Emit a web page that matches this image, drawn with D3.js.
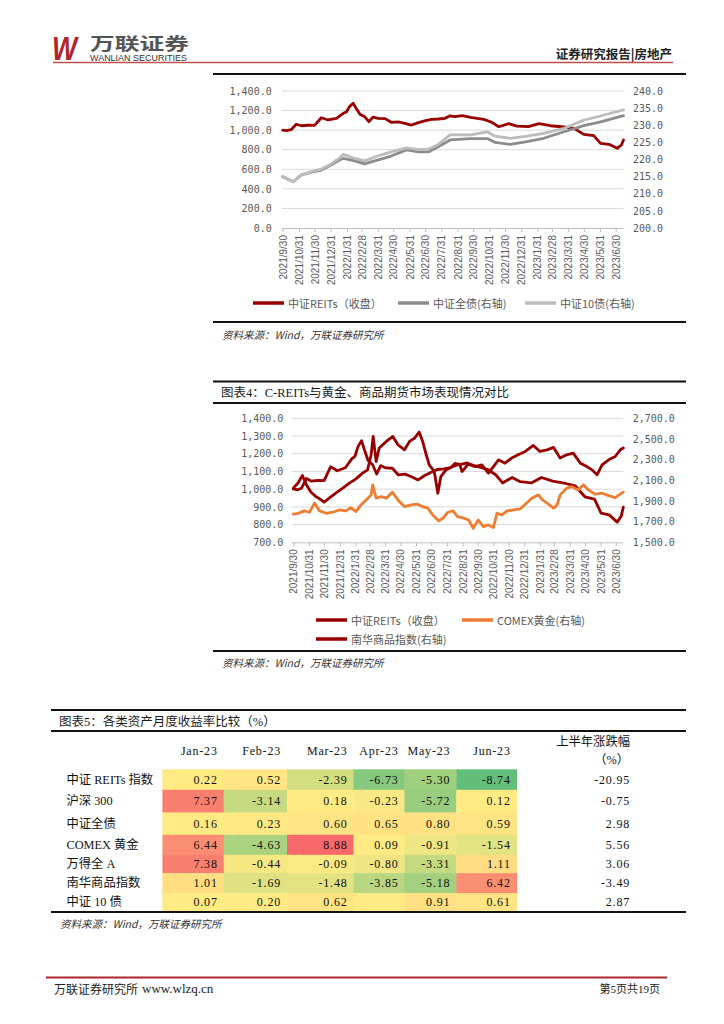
<!DOCTYPE html>
<html><head><meta charset="utf-8">
<script src="https://cdn.jsdelivr.net/npm/d3@7"></script>
<style>
html,body{margin:0;padding:0;background:#fff;}
svg{display:block;}
</style></head><body>
<svg id="page" width="724" height="1024"></svg>
<script>
// ================= DATA =================
const xTickLabels = ["2021/9/30","2021/10/31","2021/11/30","2021/12/31","2022/1/31","2022/2/28","2022/3/31","2022/4/30","2022/5/31","2022/6/30","2022/7/31","2022/8/31","2022/9/30","2022/10/31","2022/11/30","2022/12/31","2023/1/31","2023/2/28","2023/3/31","2023/4/30","2023/5/31","2023/6/30"];
const dateDomain = ["2021-09-30","2023-07-15"];

const chart1LeftTicks = [0,200,400,600,800,1000,1200,1400];
const chart1RightTicks = [200,205,210,215,220,225,230,235,240];
const chart2LeftTicks = [700,800,900,1000,1100,1200,1300,1400];
const chart2RightTicks = [1500,1700,1900,2100,2300,2500,2700];

// 中证REITs（收盘）
const reitsSeries = [["2021-09-30",1001],["2021-10-08",996],["2021-10-16",1005],["2021-10-26",1060],["2021-11-05",1045],["2021-11-17",1050],["2021-11-30",1048],["2021-12-13",1127],["2021-12-26",1104],["2022-01-11",1121],["2022-01-24",1172],["2022-01-30",1185],["2022-02-05",1240],["2022-02-12",1274],["2022-02-18",1220],["2022-02-25",1162],["2022-03-06",1138],["2022-03-14",1086],["2022-03-22",1133],["2022-04-01",1120],["2022-04-14",1118],["2022-04-26",1080],["2022-05-09",1085],["2022-05-22",1070],["2022-06-04",1052],["2022-06-17",1077],["2022-06-29",1094],["2022-07-12",1111],["2022-07-25",1114],["2022-08-07",1121],["2022-08-16",1145],["2022-08-26",1138],["2022-09-09",1148],["2022-09-25",1131],["2022-10-20",1111],["2022-11-05",1080],["2022-11-18",1035],["2022-12-07",1066],["2022-12-23",1042],["2023-01-14",1035],["2023-02-03",1066],["2023-02-25",1045],["2023-03-23",1032],["2023-04-11",1018],["2023-04-30",957],["2023-05-19",944],["2023-06-01",865],["2023-06-17",855],["2023-07-03",814],["2023-07-11",848],["2023-07-15",899]];

// 中证全债（右轴）
const bondAllSeries = [["2021-09-30",215.0],["2021-10-20",213.5],["2021-11-05",215.5],["2021-11-24",216.3],["2021-12-13",216.9],["2022-01-01",218.4],["2022-01-17",219.9],["2022-01-24",220.3],["2022-02-15",219.6],["2022-03-06",218.7],["2022-04-01",219.9],["2022-04-26",221.0],["2022-05-25",222.8],["2022-06-17",222.2],["2022-07-06",222.2],["2022-07-25",223.7],["2022-08-17",225.7],["2022-09-25",226.1],["2022-10-27",226.1],["2022-11-11",225.0],["2022-12-10",224.4],["2023-01-11",225.2],["2023-02-12",226.2],["2023-03-23",228.1],["2023-04-30",229.9],["2023-06-01",231.0],["2023-07-15",232.8]];

// 中证10债（右轴）
const bond10Series = [["2021-09-30",215.0],["2021-10-20",213.5],["2021-11-05",215.5],["2021-11-24",216.5],["2021-12-13",217.2],["2022-01-01",218.7],["2022-01-17",220.5],["2022-01-24",221.5],["2022-02-15",220.3],["2022-03-06",219.6],["2022-04-01",221.1],["2022-04-26",222.2],["2022-05-25",223.4],["2022-06-17",222.9],["2022-07-06",223.0],["2022-07-25",224.4],["2022-08-17",227.2],["2022-09-25",227.2],["2022-10-27",228.1],["2022-11-11",226.8],["2022-12-10",226.2],["2023-01-11",226.8],["2023-02-12",227.6],["2023-03-23",229.1],["2023-04-30",231.5],["2023-06-01",232.7],["2023-07-15",234.5]];

// 南华商品指数（右轴）
const nanhuaSeries = [["2021-09-30",2024],["2021-10-09",2072],["2021-10-18",2146],["2021-10-26",2056],["2021-11-04",1985],["2021-11-14",1942],["2021-11-24",1910],["2021-11-30",1888],["2021-12-10",1927],["2021-12-23",1975],["2022-01-06",2024],["2022-01-19",2072],["2022-02-01",2114],["2022-02-14",2169],["2022-02-24",2201],["2022-03-03",2347],["2022-03-07",2524],["2022-03-13",2282],["2022-03-19",2412],["2022-04-02",2476],["2022-04-15",2524],["2022-04-25",2444],["2022-05-08",2395],["2022-05-18",2476],["2022-05-28",2509],["2022-06-06",2567],["2022-06-13",2476],["2022-06-20",2347],["2022-06-26",2250],["2022-07-06",2185],["2022-07-13",1975],["2022-07-19",2136],["2022-07-29",2201],["2022-08-12",2233],["2022-08-25",2257],["2022-08-30",2185],["2022-09-11",2257],["2022-09-25",2233],["2022-10-08",2250],["2022-10-21",2169],["2022-10-31",2233],["2022-11-10",2298],["2022-11-23",2266],["2022-12-06",2315],["2022-12-19",2347],["2023-01-02",2379],["2023-01-18",2437],["2023-01-31",2379],["2023-02-14",2395],["2023-02-27",2418],["2023-03-12",2315],["2023-03-25",2347],["2023-04-07",2363],["2023-04-21",2266],["2023-05-04",2233],["2023-05-14",2201],["2023-05-24",2153],["2023-06-03",2250],["2023-06-16",2298],["2023-06-29",2330],["2023-07-09",2395],["2023-07-15",2412]];

// COMEX黄金（右轴）
const comexSeries = [["2021-09-30",1772],["2021-10-10",1781],["2021-10-22",1804],["2021-11-01",1791],["2021-11-11",1878],["2021-11-21",1804],["2021-12-04",1781],["2021-12-17",1791],["2021-12-30",1813],["2022-01-12",1804],["2022-01-22",1836],["2022-02-01",1797],["2022-02-11",1862],["2022-02-21",1910],["2022-03-03",1959],["2022-03-06",2056],["2022-03-13",1927],["2022-03-23",1942],["2022-04-02",1927],["2022-04-14",1985],["2022-04-25",1910],["2022-05-08",1845],["2022-05-21",1862],["2022-06-03",1869],["2022-06-13",1845],["2022-06-23",1830],["2022-07-03",1765],["2022-07-15",1707],["2022-07-23",1733],["2022-08-02",1791],["2022-08-12",1804],["2022-08-21",1748],["2022-08-30",1739],["2022-09-12",1716],["2022-09-21",1636],["2022-10-01",1716],["2022-10-11",1651],["2022-10-21",1668],["2022-10-31",1642],["2022-11-07",1781],["2022-11-17",1765],["2022-11-27",1804],["2022-12-10",1813],["2022-12-23",1823],["2023-01-02",1869],["2023-01-15",1927],["2023-01-28",1959],["2023-02-05",1910],["2023-02-17",1869],["2023-02-27",1830],["2023-03-06",1862],["2023-03-12",1959],["2023-03-25",2024],["2023-04-04",2039],["2023-04-17",2007],["2023-04-27",2056],["2023-05-07",2007],["2023-05-20",1966],["2023-06-03",1975],["2023-06-16",1952],["2023-06-29",1933],["2023-07-09",1966],["2023-07-15",1985]];

// 表5
const tableRows = ["中证 REITs 指数","沪深 300","中证全债","COMEX 黄金","万得全 A","南华商品指数","中证 10 债"];
const tableMonths = ["Jan-23","Feb-23","Mar-23","Apr-23","May-23","Jun-23"];
const monthlyReturns = [
  [0.22, 0.52, -2.39, -6.73, -5.30, -8.74],
  [7.37, -3.14, 0.18, -0.23, -5.72, 0.12],
  [0.16, 0.23, 0.60, 0.65, 0.80, 0.59],
  [6.44, -4.63, 8.88, 0.09, -0.91, -1.54],
  [7.38, -0.44, -0.09, -0.80, -3.31, 1.11],
  [1.01, -1.69, -1.48, -3.85, -5.18, 6.42],
  [0.07, 0.20, 0.62, null, 0.91, 0.61]
];
const halfYearChange = [-20.95, -0.75, 2.98, 5.56, 3.06, -3.49, 2.87];

// ================= LAYOUT / STYLE =================
const CJK = "'Noto Sans CJK SC','Noto Sans',sans-serif";
const SERIF = "'Liberation Serif','Noto Sans CJK SC',serif";
const MONO = "'DejaVu Sans Mono',monospace";
const SANS = "'Liberation Sans',Arial,sans-serif";
const RED = "#990000", DGRAY = "#8c8c8c", LGRAY = "#bcbcbc", ORANGE = "#ED7D31";
const colWidths = [61.3, 63.3, 66.5, 51, 51.8, 60.4];
const rowHeights = [20.5, 22.7, 22.3, 20, 18.3, 20, 17.4];

const svg = d3.select("#page");
svg.append("rect").attr("width",724).attr("height",1024).attr("fill","#fff");

const parseDay = d3.timeParse("%Y-%m-%d");
const parseTick = d3.timeParse("%Y/%m/%d");
const toPts = s => s.map(([d,v]) => ({date: parseDay(d), v}));
const tickDates = xTickLabels.map(parseTick);

function hline(y, x1, x2, w, c) {
  svg.append("line").attr("x1",x1).attr("x2",x2).attr("y1",y).attr("y2",y)
    .attr("stroke",c).attr("stroke-width",w);
}
function txt(x, y, s, o) {
  const t = svg.append("text").attr("x",x).attr("y",y).text(s)
    .attr("font-family",o.ff||CJK).attr("font-size",o.fs||12)
    .attr("fill",o.fill||"#000").attr("text-anchor",o.anchor||"start")
    .attr("dominant-baseline","central");
  if (o.fw) t.attr("font-weight",o.fw);
  if (o.fst) t.attr("font-style",o.fst);
  if (o.len) t.attr("textLength",o.len).attr("lengthAdjust","spacingAndGlyphs");
  if (o.ls) t.attr("letter-spacing",o.ls);
  return t;
}

// ================= HEADER =================
svg.append("text").attr("x",52).attr("y",60).text("W")
  .attr("font-family",SANS).attr("font-weight","bold").attr("font-style","italic")
  .attr("font-size",34).attr("fill","#b0252b")
  .attr("textLength",25).attr("lengthAdjust","spacingAndGlyphs");
svg.append("text").attr("x",90).attr("y",50).text("万联证券")
  .attr("font-family",CJK).attr("font-weight","bold").attr("font-size",17.5).attr("fill","#555")
  .attr("textLength",99).attr("lengthAdjust","spacingAndGlyphs");
svg.append("text").attr("x",90).attr("y",61).text("WANLIAN SECURITIES")
  .attr("font-family",SANS).attr("font-size",8.5).attr("fill","#333")
  .attr("textLength",97).attr("lengthAdjust","spacingAndGlyphs");
txt(672, 53.5, "证券研究报告|房地产", {fs:12.5, fw:"bold", fill:"#222", anchor:"end"});
hline(62.5, 53, 673, 1.5, "#c0504d");

// ================= LINE CHART =================
function drawChart(cfg) {
  const g = svg.append("g");
  const x = d3.scaleTime().domain(dateDomain.map(parseDay)).range([cfg.x0, cfg.x1]);
  const yL = d3.scaleLinear().domain(d3.extent(cfg.leftTicks)).range([cfg.yB, cfg.yT]);
  const yR = d3.scaleLinear().domain(d3.extent(cfg.rightTicks)).range([cfg.yB, cfg.yT]);

  // gridlines
  g.append("g").selectAll("line").data(cfg.leftTicks.slice(1)).join("line")
    .attr("x1",cfg.gx0).attr("x2",cfg.x1).attr("y1",d=>yL(d)).attr("y2",d=>yL(d))
    .attr("stroke","#d9d9d9").attr("stroke-width",1);

  // x axis
  const ax = g.append("g").attr("transform",`translate(0,${cfg.yB})`)
    .call(d3.axisBottom(x).tickValues(tickDates).tickFormat((d,i)=>xTickLabels[i]).tickSize(4).tickSizeOuter(0));
  ax.attr("font-family",SANS).attr("font-size",10);
  ax.select(".domain").attr("stroke","#bfbfbf").attr("d",`M${cfg.gx0},0.5H${cfg.x1}`);
  ax.selectAll(".tick line").attr("stroke","#bfbfbf");
  ax.selectAll(".tick text").attr("transform","rotate(-90)").attr("x",-7).attr("y",0)
    .attr("dy","0.35em").attr("text-anchor","end").attr("fill","#595959");

  // left axis
  const la = g.append("g").attr("transform",`translate(${cfg.x0},0)`)
    .call(d3.axisLeft(yL).tickValues(cfg.leftTicks).tickFormat(d3.format(",.1f")).tickSize(0).tickPadding(cfg.x0-cfg.lx));
  la.attr("font-family",MONO).attr("font-size",10);
  la.select(".domain").remove();
  la.selectAll("text").attr("fill","#595959");

  // right axis
  const ra = g.append("g").attr("transform",`translate(${cfg.x1},0)`)
    .call(d3.axisRight(yR).tickValues(cfg.rightTicks).tickFormat(d3.format(",.1f")).tickSize(0).tickPadding(cfg.rx-cfg.x1));
  ra.attr("font-family",MONO).attr("font-size",10);
  ra.select(".domain").remove();
  ra.selectAll("text").attr("fill","#595959");

  // series
  cfg.series.forEach(s => {
    const sc = s.axis === "right" ? yR : yL;
    const line = d3.line().x(d=>x(d.date)).y(d=>sc(d.v));
    g.append("path").datum(toPts(s.data)).attr("d",line)
      .attr("fill","none").attr("stroke",s.color).attr("stroke-width",2.8)
      .attr("stroke-linejoin","round").attr("stroke-linecap","round");
  });

  // legend
  cfg.legend.forEach(l => {
    g.append("line").attr("x1",l.x).attr("x2",l.x+31).attr("y1",l.y).attr("y2",l.y)
      .attr("stroke",l.color).attr("stroke-width",3.5);
    g.append("text").attr("x",l.x+35).attr("y",l.y).attr("dominant-baseline","central")
      .attr("font-family",CJK).attr("font-size",11).attr("fill","#595959").text(l.label);
  });
}

// Chart 1
hline(74, 213, 686, 2, "#111");
drawChart({
  x0:282.7, gx0:282, x1:623.5, yB:228, yT:91, lx:271.7, rx:633,
  leftTicks:chart1LeftTicks, rightTicks:chart1RightTicks,
  series:[
    {data:reitsSeries, axis:"left", color:RED},
    {data:bondAllSeries, axis:"right", color:DGRAY},
    {data:bond10Series, axis:"right", color:LGRAY}
  ],
  legend:[
    {x:253, y:303, color:RED, label:"中证REITs（收盘）"},
    {x:398, y:303, color:DGRAY, label:"中证全债(右轴)"},
    {x:525, y:303, color:LGRAY, label:"中证10债(右轴)"}
  ]
});
hline(322, 213, 686, 2, "#111");
txt(222, 334, "资料来源：Wind，万联证券研究所", {fs:10.5, fst:"italic", fill:"#333"});

// Chart 2
hline(381.5, 213, 686, 2, "#111");
txt(221, 393, "图表4：C-REITs与黄金、商品期货市场表现情况对比", {ff:SERIF, fs:12.5, fill:"#1a1a1a"});
hline(403, 213, 686, 2, "#111");
drawChart({
  x0:293.3, gx0:291.7, x1:623.3, yB:542.3, yT:418.3, lx:283.3, rx:632.7,
  leftTicks:chart2LeftTicks, rightTicks:chart2RightTicks,
  series:[
    {data:reitsSeries, axis:"left", color:RED},
    {data:comexSeries, axis:"right", color:ORANGE},
    {data:nanhuaSeries, axis:"right", color:RED}
  ],
  legend:[
    {x:316, y:620, color:RED, label:"中证REITs（收盘）"},
    {x:462, y:620, color:ORANGE, label:"COMEX黄金(右轴)"},
    {x:316, y:639, color:RED, label:"南华商品指数(右轴)"}
  ]
});
hline(651, 213, 686, 2, "#111");
txt(222, 662, "资料来源：Wind，万联证券研究所", {fs:10.5, fst:"italic", fill:"#333"});

// ================= TABLE =================
hline(710, 51, 686, 2, "#111");
txt(59, 721.5, "图表5：各类资产月度收益率比较（%）", {ff:SERIF, fs:12.5, fill:"#1a1a1a"});
hline(731, 51, 686, 2, "#111");

const colStarts = colWidths.map((w,i)=>162.4 + d3.sum(colWidths.slice(0,i)));
const rowStarts = rowHeights.map((h,i)=>769.3 + d3.sum(rowHeights.slice(0,i)));
const xCol = d3.scaleOrdinal(tableMonths, colStarts);
const wCol = d3.scaleOrdinal(tableMonths, colWidths);
const yRow = d3.scaleOrdinal(tableRows, rowStarts);
const hRow = d3.scaleOrdinal(tableRows, rowHeights);

const allVals = monthlyReturns.flat().filter(v=>v!==null);
const color = d3.scaleLinear()
  .domain([d3.min(allVals), d3.median(allVals), d3.max(allVals)])
  .range(["#63BE7B","#FFEB84","#F8696B"]);

const cells = [];
monthlyReturns.forEach((row,ri)=>row.forEach((v,ci)=>cells.push({r:tableRows[ri], m:tableMonths[ci], v})));
const tg = svg.append("g");
tg.selectAll("rect").data(cells).join("rect")
  .attr("x",d=>xCol(d.m)).attr("y",d=>yRow(d.r))
  .attr("width",d=>wCol(d.m)+0.4).attr("height",d=>hRow(d.r)+0.4)
  .attr("fill",d=>color(d.v===null ? d3.median(allVals) : d.v));
tg.selectAll("text.v").data(cells.filter(d=>d.v!==null)).join("text").attr("class","v")
  .attr("x",d=>xCol(d.m)+wCol(d.m)-6).attr("y",d=>yRow(d.r)+hRow(d.r)/2)
  .attr("dominant-baseline","central").attr("text-anchor","end")
  .attr("font-family",SERIF).attr("font-size",12).attr("letter-spacing",0.8).attr("fill","#111")
  .text(d=>d.v.toFixed(2));

// month headers
tg.selectAll("text.m").data(tableMonths).join("text").attr("class","m")
  .attr("x",d=>xCol(d)+wCol(d)-6).attr("y",751)
  .attr("dominant-baseline","central").attr("text-anchor","end")
  .attr("font-family",SERIF).attr("font-size",12).attr("letter-spacing",0.8).attr("fill","#111")
  .text(d=>d);
txt(630, 742, "上半年涨跌幅", {ff:SERIF, fs:12.3, fill:"#111", anchor:"end"});
txt(629, 760, "（%）", {ff:SERIF, fs:12.3, fill:"#111", anchor:"end"});

// row labels
tg.selectAll("text.r").data(tableRows).join("text").attr("class","r")
  .attr("x",66.5).attr("y",d=>yRow(d)+hRow(d)/2)
  .attr("dominant-baseline","central")
  .attr("font-family",SERIF).attr("font-size",12.3).attr("fill","#111")
  .text(d=>d);

// half-year change
tg.selectAll("text.h").data(halfYearChange).join("text").attr("class","h")
  .attr("x",630).attr("y",(d,i)=>yRow(tableRows[i])+hRow(tableRows[i])/2)
  .attr("dominant-baseline","central").attr("text-anchor","end")
  .attr("font-family",SERIF).attr("font-size",12).attr("letter-spacing",0.8).attr("fill","#111")
  .text(d=>d.toFixed(2));

hline(912, 51, 686, 2, "#111");
txt(60, 923.5, "资料来源：Wind，万联证券研究所", {fs:10.5, fst:"italic", fill:"#333"});

// ================= FOOTER =================
hline(977.5, 46, 667, 2, "#a8262c");
txt(54, 988.5, "万联证券研究所", {fs:12, fill:"#222"});
txt(142, 988.5, "www.wlzq.cn", {ff:SERIF, fs:13, fill:"#222"});
txt(660, 988.5, "第5页共19页", {ff:SERIF, fs:11, fill:"#222", anchor:"end"});
</script>
</body></html>
